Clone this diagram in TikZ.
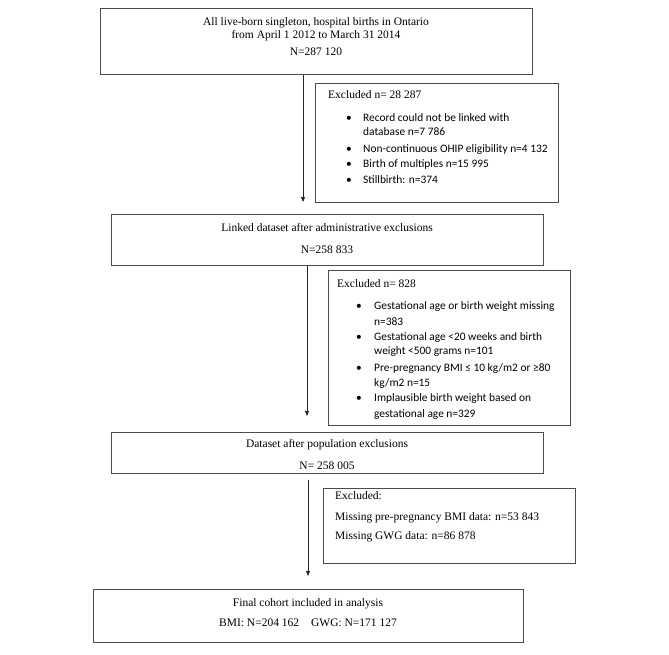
\documentclass[tikz,border=0pt]{standalone}
\usepackage{fontspec}
\setmainfont{Liberation Serif}
\newfontfamily\bulfont{Carlito}
\usetikzlibrary{arrows.meta}
\begin{document}
\begin{tikzpicture}[x=1pt,y=-1pt,
  font=\fontsize{11.5}{13}\selectfont,
  box/.style={draw=black!70, line width=0.8pt, inner sep=0pt, anchor=north west},
  ctr/.style={anchor=base, inner sep=0pt},
  lft/.style={anchor=base west, inner sep=0pt},
  bl/.style={anchor=base west, inner sep=0pt, font=\fontsize{11.4}{13}\selectfont\bulfont},
  arr/.style={draw=black!85, line width=0.8pt, -{Triangle[length=5pt,width=4pt]}}]
\useasboundingbox (0,0) rectangle (669,654);
% boxes
\node[box, minimum width=432pt, minimum height=66pt] (b1) at (100,8) {};
\node[box, minimum width=243pt, minimum height=119pt] (b2) at (315,83) {};
\node[box, minimum width=432pt, minimum height=51pt] (b3) at (111,214) {};
\node[box, minimum width=242pt, minimum height=155pt] (b4) at (328,270) {};
\node[box, minimum width=432pt, minimum height=41pt] (b5) at (111,432) {};
\node[box, minimum width=252pt, minimum height=75pt] (b6) at (323,488) {};
\node[box, minimum width=430pt, minimum height=53pt] (b7) at (93,589) {};
% box 1 text
\node[ctr] (t1a) at (316,25) {All live-born singleton, hospital births in Ontario};
\node[ctr] (t1b) at (316,38) {from April 1 2012 to March 31 2014};
\node[ctr] (t1c) at (316,55) {N=287 120};
% box 2 text
\node[lft] (t2a) at (328,98) {Excluded n= 28 287};
\node[bl] (p2a) at (346,121) {•};
\node[bl] (t2b) at (363,121) {Record could not be linked with};
\node[bl] (t2c) at (363,135) {database n=7 786};
\node[bl] (p2b) at (346,152) {•};
\node[bl] (t2d) at (363,152) {Non-continuous OHIP eligibility n=4 132};
\node[bl] (p2c) at (346,167) {•};
\node[bl] (t2e) at (363,167) {Birth of multiples n=15 995};
\node[bl] (p2d) at (346,183) {•};
\node[bl] (t2f) at (363,183) {Stillbirth: n=374};
% box 3 text
\node[ctr] (t3a) at (327,231) {Linked dataset after administrative exclusions};
\node[ctr] (t3b) at (327,253) {N=258 833};
% box 4 text
\node[lft] (t4a) at (337,287) {Excluded n= 828};
\node[bl] (p4a) at (356,309) {•};
\node[bl] (t4b) at (374,309) {Gestational age or birth weight missing};
\node[bl] (t4c) at (374,325) {n=383};
\node[bl] (p4b) at (356,340) {•};
\node[bl] (t4d) at (374,340) {Gestational age <20 weeks and birth};
\node[bl] (t4e) at (374,354) {weight <500 grams n=101};
\node[bl] (p4c) at (356,371) {•};
\node[bl] (t4f) at (374,371) {Pre-pregnancy BMI ≤ 10 kg/m2 or ≥80};
\node[bl] (t4g) at (374,386) {kg/m2 n=15};
\node[bl] (p4d) at (356,401) {•};
\node[bl] (t4h) at (374,401) {Implausible birth weight based on};
\node[bl] (t4i) at (374,417) {gestational age n=329};
% box 5 text
\node[ctr] (t5a) at (327,447) {Dataset after population exclusions};
\node[ctr] (t5b) at (327,469) {N= 258 005};
% box 6 text
\node[lft] (t6a) at (335,499) {Excluded:};
\node[lft] (t6b) at (335,520) {Missing pre-pregnancy BMI data: n=53 843};
\node[lft] (t6c) at (335,539) {Missing GWG data: n=86 878};
% box 7 text
\node[ctr] (t7a) at (308,606) {Final cohort included in analysis};
\node[ctr] (t7b) at (308,626) {BMI: N=204 162\hspace{12pt}GWG: N=171 127};
% arrows
\coordinate (e1) at (303,202);
\coordinate (e2) at (307,416);
\coordinate (e3) at (308,576);
\draw[arr] (b1.south -| e1) -- (e1);
\draw[arr] (b3.south -| e2) -- (e2);
\draw[arr] (b5.south -| e3) ++(0,6) -- (e3);
\end{tikzpicture}
\end{document}
